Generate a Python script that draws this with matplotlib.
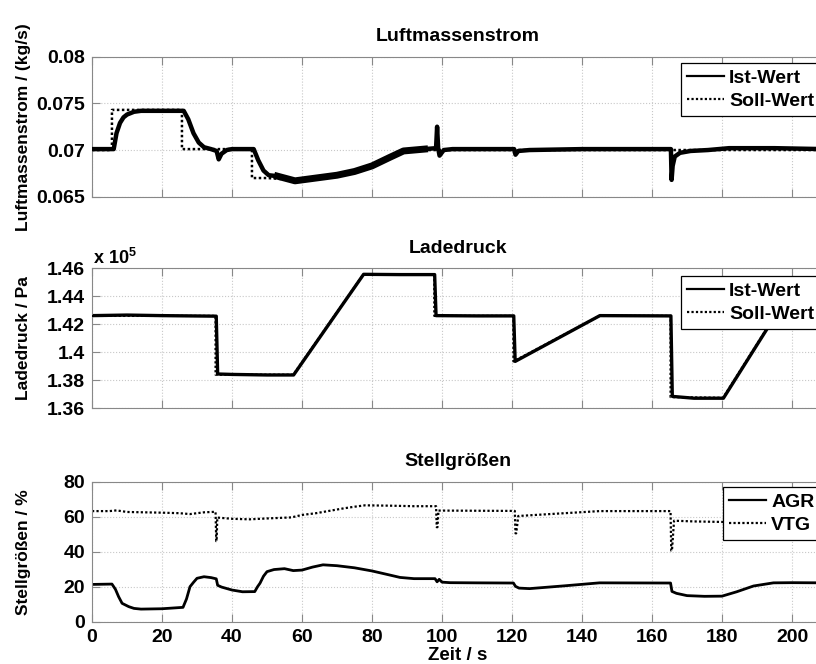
import matplotlib
matplotlib.use("Agg")
import matplotlib.pyplot as plt

plt.rcParams['font.family'] = ['Liberation Sans', 'DejaVu Sans']
plt.rcParams['font.weight'] = 'bold'
plt.rcParams['axes.labelweight'] = 'bold'
plt.rcParams['axes.titleweight'] = 'bold'
plt.rcParams['mathtext.default'] = 'regular'

# Luftmassenstrom (kg/s)
t_lm_ist = [0, 6.2, 7, 8, 9, 10, 12, 14, 20, 26.2, 27.5, 29, 30.5, 32, 34, 35.6, 36.2, 37, 38.5,
            40, 46.2, 47.5, 49, 50.5, 53, 56, 58, 62, 66, 70, 75, 80, 85, 89, 95,
            98.3, 98.6, 98.9, 99.3, 100.5, 103, 110, 120.6, 121, 121.8, 125, 140, 160,
            165.4, 165.6, 165.9, 166.5, 168, 171, 176, 182, 195, 209]
lm_ist = [0.0701, 0.0701, 0.0718, 0.0729, 0.0735, 0.0738, 0.0741, 0.0742, 0.0742, 0.0742,
          0.0733, 0.0718, 0.0708, 0.0703, 0.0701, 0.0699, 0.0690, 0.0696, 0.0700,
          0.0701, 0.0701, 0.0689, 0.0678, 0.0673, 0.0672, 0.0669, 0.0667, 0.0669, 0.0671,
          0.0673, 0.0677, 0.0683, 0.0692, 0.0699, 0.0701,
          0.0702, 0.0725, 0.0702, 0.0694, 0.0700, 0.0701, 0.0701, 0.0701, 0.0695, 0.0699, 0.0700,
          0.0701, 0.0701, 0.0701, 0.0668, 0.0683, 0.0693, 0.0697, 0.0699, 0.0700, 0.0702, 0.0702,
          0.0701]
t_lm_soll = [0, 5.7, 5.7, 25.7, 25.7, 45.7, 45.7, 50, 58, 70, 80, 89, 209]
lm_soll = [0.0700, 0.0700, 0.0743, 0.0743, 0.0701, 0.0701, 0.0670, 0.0670, 0.0668, 0.0673,
           0.0683, 0.0700, 0.0700]

# Ladedruck (x 10^5 Pa)
t_ld_ist = [0, 10, 20, 35.5, 35.9, 40, 50, 57.6, 77.6, 88, 97.9, 98.3, 110, 120.5, 120.9,
            145.1, 165.4, 165.8, 172, 180.4, 201, 209]
ld_ist = [1.4262, 1.4266, 1.4262, 1.4258, 1.3845, 1.3842, 1.3838, 1.3838, 1.4557, 1.4555,
          1.4555, 1.4262, 1.4260, 1.4260, 1.3935, 1.4262, 1.4260, 1.3685, 1.3672, 1.3672,
          1.4490, 1.4490]
t_ld_soll = [0, 35.3, 35.3, 57.5, 77.5, 97.8, 97.8, 120.4, 120.4, 145, 165.3, 165.3, 180.3,
             200.9, 209]
ld_soll = [1.426, 1.426, 1.384, 1.384, 1.4555, 1.4555, 1.426, 1.426, 1.3935, 1.426, 1.426,
           1.368, 1.3675, 1.449, 1.449]

# Stellgroessen (%)
t_agr = [0, 5.7, 6.7, 7.6, 8.6, 10.5, 12, 14, 20, 26, 27, 28, 29, 30, 32, 34, 35.5, 35.9, 37,
         40, 43, 46.5, 47.3, 48, 49, 50, 52, 55, 57.5, 60, 63, 66, 70, 75, 80, 85, 88, 92, 98,
         98.6, 99.2, 100, 102.3, 110, 120.4, 121, 122, 125, 135, 145, 165.3, 165.7, 167, 170,
         175, 180, 184.2, 189, 194.7, 200, 209]
agr = [21.3, 21.5, 18.5, 14.3, 10.5, 8.6, 7.6, 7.2, 7.4, 8.2, 13, 20, 22.5, 24.8, 25.7, 25.2,
       24.5, 20.8, 19.8, 18.1, 17.1, 17.2, 20, 22, 26, 28.6, 29.8, 30.3, 29.2, 29.5, 31.2, 32.5,
       32, 30.8, 29, 26.7, 25.3, 24.6, 24.6, 22.8, 24.2, 22.6, 22.3, 22.2, 22.1, 20.2, 19.2, 18.9,
       20.5, 22.2, 22.1, 17.3, 16.2, 14.9, 14.5, 14.6, 17.1, 20.4, 22.2, 22.3, 22.2]
t_vtg = [0, 5, 7, 10, 20, 25, 28, 32, 35.3, 35.5, 35.6, 35.8, 40, 45, 50, 57, 60, 64, 68, 72,
         75, 78, 85, 92, 98.3, 98.5, 98.7, 99, 110, 120.8, 121, 121.2, 121.8, 130, 145, 165.3,
         165.5, 165.7, 166.3, 172, 180, 209]
vtg = [63.2, 63.2, 63.6, 62.7, 62.3, 62, 61.5, 62.5, 62.8, 46, 46, 59.5, 58.8, 58.5, 59, 59.6,
       61, 62, 63.4, 64.8, 65.7, 66.5, 66.3, 66, 66, 54, 54, 63.5, 63.4, 63.3, 50.5, 50.5, 60.4,
       61.4, 63.2, 63.2, 40.6, 40.6, 57.7, 57.3, 57, 57]

x_ticks = [0, 20, 40, 60, 80, 100, 120, 140, 160, 180, 200]
lm_ticks = [0.065, 0.07, 0.075, 0.08]
lm_labels = ["0.065", "0.07", "0.075", "0.08"]
ld_ticks = [1.36, 1.38, 1.4, 1.42, 1.44, 1.46]
ld_labels = ["1.36", "1.38", "1.4", "1.42", "1.44", "1.46"]
sg_ticks = [0, 20, 40, 60, 80]

W, H = 816, 664
fig = plt.figure(figsize=(W / 100, H / 100), dpi=100)

left = 92 / W
width = 731.5 / W
hgt = 140 / H
ax1 = fig.add_axes([left, 1 - 196.7 / H, width, hgt])
ax2 = fig.add_axes([left, 1 - 408.3 / H, width, hgt])
ax3 = fig.add_axes([left, 1 - 621.7 / H, width, hgt])

dot = (0, (1, 1))

ax1.plot(t_lm_soll, lm_soll, color="black", lw=1.8, linestyle=dot, label="Soll-Wert", zorder=2)
ax1.plot(t_lm_ist, lm_ist, color="black", lw=3.2, label="Ist-Wert", zorder=3)
# noisier stretch of the measurement looks thicker
ax1.plot(t_lm_ist[24:35], lm_ist[24:35], color="black", lw=5, zorder=3)
ax1.set_ylim(0.065, 0.08)
ax1.set_yticks(lm_ticks)
ax1.set_yticklabels(lm_labels)
ax1.set_title("Luftmassenstrom", fontsize=14, pad=11)
ax1.set_ylabel("Luftmassenstrom / (kg/s)", fontsize=12.5)

ax2.plot(t_ld_ist, ld_ist, color="black", lw=2.4, label="Ist-Wert", zorder=2)
ax2.plot(t_ld_soll, ld_soll, color="black", lw=1.6, linestyle=dot, label="Soll-Wert", zorder=3)
ax2.set_ylim(1.36, 1.46)
ax2.set_yticks(ld_ticks)
ax2.set_yticklabels(ld_labels)
ax2.set_title("Ladedruck", fontsize=14, pad=11)
ax2.set_ylabel("Ladedruck / Pa", fontsize=12.5)
fig.text(93 / W, 1 - 258 / H, r"x 10$^5$", fontsize=13, fontweight="bold", va="center")

ax3.plot(t_agr, agr, color="black", lw=2.0, label="AGR")
ax3.plot(t_vtg, vtg, color="black", lw=1.6, linestyle=dot, label="VTG")
ax3.set_ylim(0, 80)
ax3.set_yticks(sg_ticks)
ax3.set_title("Stellgrößen", fontsize=14, pad=11)
ax3.set_ylabel("Stellgrößen / %", fontsize=12.5)
ax3.set_xlabel("Zeit / s", fontsize=13.5, labelpad=1)

for ax in (ax1, ax2, ax3):
    ax.set_xlim(0, 209)
    ax.set_xticks(x_ticks)
    ax.grid(True, color="#c8c8c8", linestyle=":", linewidth=0.8)
    ax.tick_params(direction="in", length=6, color="#888888", top=True, right=True,
                   labelsize=14, pad=5)
    for s in ax.spines.values():
        s.set_color("#888888")
    ax.yaxis.set_label_coords(-0.084, 0.5)
    if ax is not ax3:
        ax.set_xticklabels([])
    for lab in ax.get_xticklabels() + ax.get_yticklabels():
        lab.set_fontweight("bold")

leg_pos = [(ax1, 681, 63.3, ["Ist-Wert", "Soll-Wert"]),
           (ax2, 681, 275.7, ["Ist-Wert", "Soll-Wert"]),
           (ax3, 723, 486.7, ["AGR", "VTG"])]
for ax, lx, ly, order in leg_pos:
    handles, labels = ax.get_legend_handles_labels()
    hmap = dict(zip(labels, handles))
    leg = ax.legend([hmap[k] for k in order], order, loc="upper left",
                    bbox_to_anchor=(lx / W, 1 - ly / H), bbox_transform=fig.transFigure,
                    borderaxespad=0, fancybox=False, framealpha=1, edgecolor="black",
                    prop={"size": 14, "weight": "bold"}, handlelength=1.9,
                    handletextpad=0.25, borderpad=0.32, labelspacing=0.28)
    leg.get_frame().set_linewidth(0.9)
    for h in leg.get_lines():
        h.set_linewidth(1.6)
    leg.set_zorder(10)

fig.savefig("out.png", dpi=100)
